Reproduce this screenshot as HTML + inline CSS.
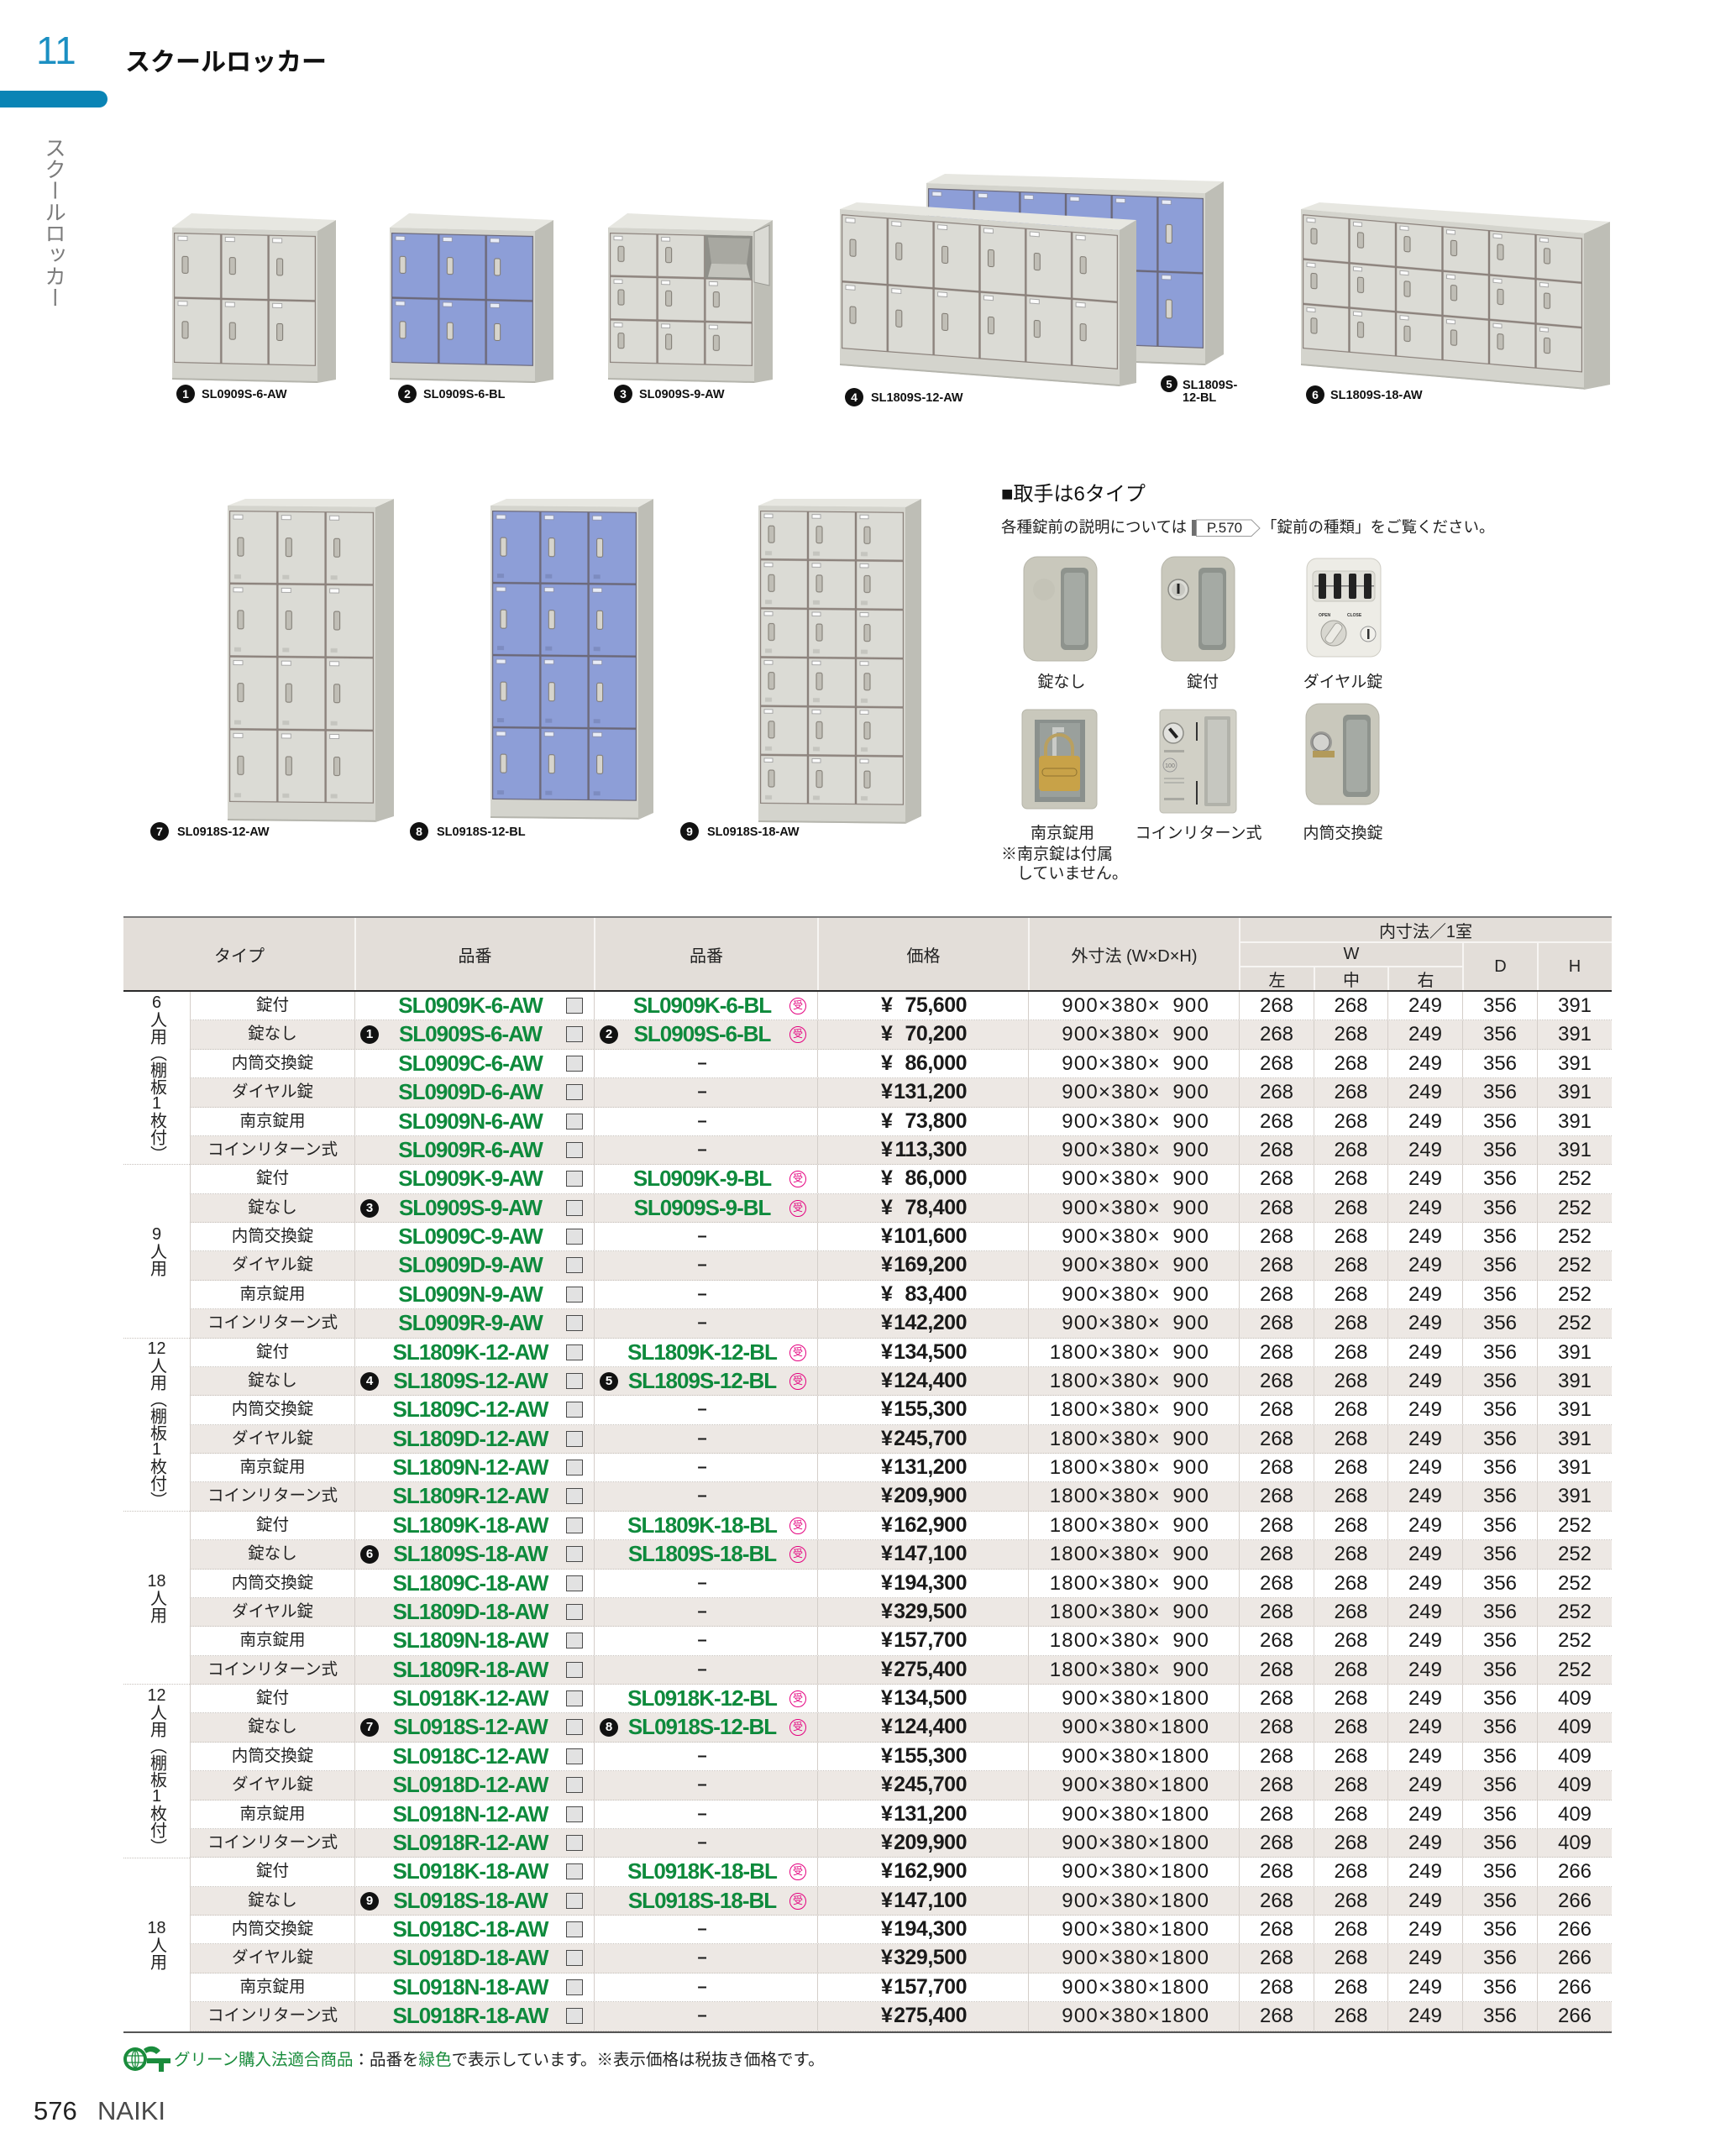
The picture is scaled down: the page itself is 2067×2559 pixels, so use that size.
<!DOCTYPE html>
<html lang="ja">
<head>
<meta charset="utf-8">
<style>
body{margin:0;background:#fff}
#pg{position:relative;width:2067px;height:2559px;overflow:hidden;background:#fff;font-family:"Liberation Sans","Noto Sans CJK JP",sans-serif;color:#1a1a1a}
.a{position:absolute;white-space:nowrap;line-height:1}
.hc{position:absolute;display:flex;align-items:center;justify-content:center;font-size:20px;color:#222;white-space:nowrap}
.ln{position:absolute}
#tb{position:absolute;left:226px;top:1181px;width:1693px}
.r{display:flex;height:34.39px;box-sizing:border-box;border-bottom:1px dotted #c6c0ba;background:#fff}
.r.z{background:#ede8e4}
.r>div{position:relative;box-sizing:border-box;border-right:1px solid #d4cec9;line-height:33px;text-align:center;font-size:24px;flex:none;white-space:nowrap}
.r>div:last-child{border-right:none}
.t{width:197px;font-size:19.5px!important;border-left:1px solid #d4cec9;color:#222}
.p1{width:285px}.p2{width:266px}.pr{width:251px}.sz{width:251px;text-align:right!important;padding-right:35px;letter-spacing:1.2px}
.c1{width:89px}.c2{width:88px}
.g{position:absolute;top:0;left:0;color:#0e8a3c;font-weight:bold;font-size:26px;letter-spacing:-1px;line-height:33px;text-align:center}
.p1 .g{width:274px}.p2 .g{width:256px}
.dh{position:absolute;top:0;left:0;width:256px;text-align:center;font-weight:bold;font-size:20px;line-height:33px}
.n{position:absolute;top:6px;left:6px;width:22px;height:22px;border-radius:50%;background:#111;color:#fff;font-size:15px;font-weight:bold;line-height:22px;text-align:center}
.cb{position:absolute;left:251px;top:7px;width:20px;height:19px;box-sizing:border-box;border:1.5px solid #4a4a4a;background:#e2e2e2}
.ju{position:absolute;left:232px;top:7px;width:20px;height:20px;box-sizing:border-box;border:1.5px solid #e4007f;border-radius:50%;color:#e4007f;font-size:12px;line-height:17px;text-align:center;letter-spacing:0}
.y{position:absolute;left:75px;top:0;font-weight:bold;font-size:25px;line-height:33px}
.v{position:absolute;right:73px;top:0;font-weight:bold;font-size:25px;letter-spacing:-0.5px;line-height:33px}
.w{display:inline-block;width:58px;text-align:right}
#gc{position:absolute;left:147px;top:1181px;width:79px}
.gp{height:206.34px;box-sizing:border-box;border-bottom:1px dotted #c6c0ba;display:flex;align-items:center;justify-content:center}
.gp:last-child{border-bottom:none}
.vt{writing-mode:vertical-rl;font-size:20px;line-height:1;color:#222;font-family:"Liberation Sans","Noto Sans CJK JP",sans-serif}
.tc{text-combine-upright:all}
.hl{position:absolute;width:200px;text-align:center;font-size:19px;line-height:1;white-space:nowrap;color:#222}
</style>
</head>
<body>
<div id="pg">

<!-- header -->
<div class="a" style="left:43px;top:37px;font-size:46px;color:#1b8fc2">11</div>
<div class="a" style="left:149px;top:60px;font-size:30px;font-weight:bold;color:#111">スクールロッカー</div>
<div class="ln" style="left:0;top:108px;width:128px;height:20px;background:#0a84b5;border-radius:0 10px 10px 0"></div>
<div class="a" style="left:50px;top:163px;writing-mode:vertical-rl;font-size:25.5px;color:#7b7b7b">スクールロッカー</div>

<!-- locker images -->
<svg class="a" style="left:0;top:0" width="2067" height="1060" viewBox="0 0 2067 1060">
<defs>
<pattern id="q1" patternUnits="userSpaceOnUse" x="2" y="6" width="56.33" height="77.5"><rect x=".6" y=".6" width="55.1" height="76.3" fill="#dbdbd5" stroke="#8a807a" stroke-width="1.2"/><rect x="10" y="28" width="7" height="20" rx="2" fill="#c0beb6" stroke="#7d7870"/><rect x="5" y="4" width="11" height="5" fill="#fbfbfb" stroke="#9a9a9a" stroke-width=".8"/></pattern>
<pattern id="q2" patternUnits="userSpaceOnUse" x="2" y="6" width="56.33" height="77.5"><rect x=".6" y=".6" width="55.1" height="76.3" fill="#8d9ed7" stroke="#6b6878" stroke-width="1.2"/><rect x="10" y="28" width="7" height="20" rx="2" fill="#d6d4cc" stroke="#7d7870"/><rect x="5" y="4" width="11" height="5" fill="#e8ecf6" stroke="#8a8fa8" stroke-width=".8"/></pattern>
<pattern id="q3" patternUnits="userSpaceOnUse" x="2" y="6" width="56.67" height="51.67"><rect x=".6" y=".6" width="55.4" height="50.4" fill="#dbdbd5" stroke="#8a807a" stroke-width="1.2"/><rect x="10" y="16" width="7" height="18" rx="2" fill="#c0beb6" stroke="#7d7870"/><rect x="5" y="4" width="10" height="4.5" fill="#fbfbfb" stroke="#9a9a9a" stroke-width=".8"/></pattern>
<pattern id="q4" patternUnits="userSpaceOnUse" x="2" y="6" width="54.83" height="80"><rect x=".6" y=".6" width="53.6" height="78.8" fill="#dbdbd5" stroke="#8a807a" stroke-width="1.2"/><rect x="10" y="29" width="7" height="20" rx="2" fill="#c0beb6" stroke="#7d7870"/><rect x="5" y="4" width="11" height="5" fill="#fbfbfb" stroke="#9a9a9a" stroke-width=".8"/></pattern>
<pattern id="q5" patternUnits="userSpaceOnUse" x="2" y="6" width="54.67" height="89.5"><rect x=".6" y=".6" width="53.5" height="88.3" fill="#8d9ed7" stroke="#6b6878" stroke-width="1.2"/><rect x="10" y="33" width="7" height="22" rx="2" fill="#d6d4cc" stroke="#7d7870"/><rect x="5" y="4" width="11" height="5" fill="#e8ecf6" stroke="#8a8fa8" stroke-width=".8"/></pattern>
<pattern id="q6" patternUnits="userSpaceOnUse" x="2" y="6" width="55.5" height="53.33"><rect x=".6" y=".6" width="54.3" height="52.1" fill="#dbdbd5" stroke="#8a807a" stroke-width="1.2"/><rect x="10" y="16" width="7" height="18" rx="2" fill="#c0beb6" stroke="#7d7870"/><rect x="5" y="4" width="10" height="4.5" fill="#fbfbfb" stroke="#9a9a9a" stroke-width=".8"/></pattern>
<pattern id="q7" patternUnits="userSpaceOnUse" x="2" y="6" width="57.33" height="86.75"><rect x=".6" y=".6" width="56.1" height="85.5" fill="#dbdbd5" stroke="#8a807a" stroke-width="1.2"/><rect x="10" y="32" width="7" height="22" rx="2" fill="#c0beb6" stroke="#7d7870"/><rect x="5" y="5" width="11" height="5" fill="#fbfbfb" stroke="#9a9a9a" stroke-width=".8"/><rect x="6" y="76" width="8" height="5" fill="#c5c5bf"/></pattern>
<pattern id="q8" patternUnits="userSpaceOnUse" x="2" y="6" width="57.33" height="86"><rect x=".6" y=".6" width="56.1" height="84.8" fill="#8d9ed7" stroke="#6b6878" stroke-width="1.2"/><rect x="10" y="32" width="7" height="22" rx="2" fill="#d6d4cc" stroke="#7d7870"/><rect x="5" y="5" width="11" height="5" fill="#e8ecf6" stroke="#8a8fa8" stroke-width=".8"/><rect x="6" y="75" width="8" height="5" fill="#7d8cc0"/></pattern>
<pattern id="q9" patternUnits="userSpaceOnUse" x="2" y="6" width="57" height="58.17"><rect x=".6" y=".6" width="55.8" height="56.9" fill="#dbdbd5" stroke="#8a807a" stroke-width="1.2"/><rect x="10" y="18" width="7" height="20" rx="2" fill="#c0beb6" stroke="#7d7870"/><rect x="5" y="4" width="10" height="4.5" fill="#fbfbfb" stroke="#9a9a9a" stroke-width=".8"/><rect x="6" y="48" width="8" height="5" fill="#c5c5bf"/></pattern>
</defs>

<!-- L1 -->
<polygon points="378,275 400,262 400,452 378,456" fill="#bebeb6"/>
<polygon points="205,271 378,275 400,262 228,254" fill="#e7e7e1"/>
<g transform="matrix(1,0.023,0,1,205,271)"><rect width="173" height="181" fill="#d4d4cd"/><rect x="2" y="6" width="169" height="155" fill="url(#q1)"/><rect y="179" width="173" height="2" fill="#b5b5ad"/></g>
<!-- L2 -->
<polygon points="637,275 659,262 659,452 637,456" fill="#bebeb6"/>
<polygon points="464,271 637,275 659,262 487,254" fill="#e7e7e1"/>
<g transform="matrix(1,0.023,0,1,464,271)"><rect width="173" height="181" fill="#d4d4cd"/><rect x="2" y="6" width="169" height="155" fill="url(#q2)"/><rect y="179" width="173" height="2" fill="#b5b5ad"/></g>
<!-- L3 -->
<polygon points="898,275 920,262 920,452 898,456" fill="#bebeb6"/>
<polygon points="724,271 898,275 920,262 747,254" fill="#e7e7e1"/>
<g transform="matrix(1,0.023,0,1,724,271)"><rect width="174" height="181" fill="#d4d4cd"/><rect x="2" y="6" width="170" height="155" fill="url(#q3)"/><rect x="115.3" y="6" width="56.7" height="51.7" fill="#8f8f89"/><polygon points="119,9 169,9 165,40 123,40" fill="#a8a8a1"/><polygon points="119,56 169,56 165,40 123,40" fill="#c3c3bc"/><rect y="179" width="174" height="2" fill="#b5b5ad"/></g>
<polygon points="898,276 916,268 916,340 898,336" fill="#dadad4" stroke="#9a9a94"/>
<!-- L5 back -->
<polygon points="1435,230 1457,216 1457,422 1435,435" fill="#bebeb6"/>
<polygon points="1103,218 1435,230 1457,216 1125,207" fill="#e7e7e1"/>
<g transform="matrix(1,0.036,0,1,1103,218)"><rect width="332" height="205" fill="#d4d4cd"/><rect x="2" y="6" width="328" height="179" fill="url(#q5)"/><rect y="203" width="332" height="2" fill="#b5b5ad"/></g>
<!-- L4 front -->
<polygon points="1333,274 1353,262 1353,456 1333,460" fill="#bebeb6"/>
<polygon points="1000,249 1333,274 1353,262 1020,241" fill="#e7e7e1"/>
<g transform="matrix(1,0.075,0,1,1000,249)"><rect width="333" height="186" fill="#d4d4cd"/><rect x="2" y="6" width="329" height="160" fill="url(#q4)"/><rect y="184" width="333" height="2" fill="#b5b5ad"/></g>
<!-- L6 -->
<polygon points="1886,278 1917,264 1917,458 1886,464" fill="#bebeb6"/>
<polygon points="1549,249 1886,278 1917,264 1571,241" fill="#e7e7e1"/>
<g transform="matrix(1,0.085,0,1,1549,249)"><rect width="337" height="186" fill="#d4d4cd"/><rect x="2" y="6" width="333" height="160" fill="url(#q6)"/><rect y="184" width="337" height="2" fill="#b5b5ad"/></g>
<!-- L7 -->
<polygon points="447,604 469,594 469,972 447,979" fill="#bebeb6"/>
<polygon points="271,602 447,604 469,594 292,594" fill="#e7e7e1"/>
<g transform="matrix(1,0.01,0,1,271,602)"><rect width="176" height="375" fill="#d4d4cd"/><rect x="2" y="6" width="172" height="347" fill="url(#q7)"/><rect y="373" width="176" height="2" fill="#b5b5ad"/></g>
<!-- L8 -->
<polygon points="760,604 778,594 778,968 760,976" fill="#bebeb6"/>
<polygon points="584,602 760,604 778,594 603,594" fill="#e7e7e1"/>
<g transform="matrix(1,0.01,0,1,584,602)"><rect width="176" height="372" fill="#d4d4cd"/><rect x="2" y="6" width="172" height="344" fill="url(#q8)"/><rect y="370" width="176" height="2" fill="#b5b5ad"/></g>
<!-- L9 -->
<polygon points="1078,604 1097,594 1097,972 1078,981" fill="#bebeb6"/>
<polygon points="903,602 1078,604 1097,594 922,594" fill="#e7e7e1"/>
<g transform="matrix(1,0.01,0,1,903,602)"><rect width="175" height="377" fill="#d4d4cd"/><rect x="2" y="6" width="171" height="349" fill="url(#q9)"/><rect y="375" width="175" height="2" fill="#b5b5ad"/></g>

<!-- labels -->
<g font-family="Liberation Sans, sans-serif" font-weight="bold" font-size="14.5" fill="#111">
<circle cx="221" cy="469" r="11" fill="#111"/><text x="221" y="474" fill="#fff" text-anchor="middle" font-size="14">1</text><text x="240" y="474">SL0909S-6-AW</text>
<circle cx="485" cy="469" r="11" fill="#111"/><text x="485" y="474" fill="#fff" text-anchor="middle" font-size="14">2</text><text x="504" y="474">SL0909S-6-BL</text>
<circle cx="742" cy="469" r="11" fill="#111"/><text x="742" y="474" fill="#fff" text-anchor="middle" font-size="14">3</text><text x="761" y="474">SL0909S-9-AW</text>
<circle cx="1017" cy="473" r="11" fill="#111"/><text x="1017" y="478" fill="#fff" text-anchor="middle" font-size="14">4</text><text x="1037" y="478">SL1809S-12-AW</text>
<circle cx="1392" cy="457" r="10" fill="#111"/><text x="1392" y="462" fill="#fff" text-anchor="middle" font-size="13">5</text><text x="1408" y="463">SL1809S-</text><text x="1408" y="478">12-BL</text>
<circle cx="1566" cy="470" r="11" fill="#111"/><text x="1566" y="475" fill="#fff" text-anchor="middle" font-size="14">6</text><text x="1584" y="475">SL1809S-18-AW</text>
<circle cx="190" cy="990" r="11" fill="#111"/><text x="190" y="995" fill="#fff" text-anchor="middle" font-size="14">7</text><text x="211" y="995">SL0918S-12-AW</text>
<circle cx="499" cy="990" r="11" fill="#111"/><text x="499" y="995" fill="#fff" text-anchor="middle" font-size="14">8</text><text x="520" y="995">SL0918S-12-BL</text>
<circle cx="821" cy="990" r="11" fill="#111"/><text x="821" y="995" fill="#fff" text-anchor="middle" font-size="14">9</text><text x="842" y="995">SL0918S-18-AW</text>
</g>

<!-- handles -->
<rect x="1219" y="663" width="87" height="124" rx="16" fill="#c9c8bc" stroke="#b6b5a9"/>
<circle cx="1243" cy="702" r="13" fill="#c4c3b7"/>
<rect x="1263" y="676" width="33" height="98" rx="6" fill="#8e938d"/>
<rect x="1267" y="682" width="25" height="86" rx="4" fill="#a5aaa4"/>

<rect x="1383" y="663" width="87" height="124" rx="16" fill="#c9c8bc" stroke="#b6b5a9"/>
<rect x="1427" y="676" width="33" height="98" rx="6" fill="#8e938d"/>
<rect x="1431" y="682" width="25" height="86" rx="4" fill="#a5aaa4"/>
<circle cx="1403" cy="702" r="12" fill="#dcdcd6" stroke="#8a8a84" stroke-width="1.5"/>
<circle cx="1403" cy="702" r="8" fill="#c8c8c2"/>
<rect x="1401.5" y="695" width="3" height="12" fill="#222"/>

<rect x="1556" y="665" width="88" height="117" rx="12" fill="#edece6" stroke="#cfcdc4"/>
<rect x="1563" y="680" width="74" height="36" rx="5" fill="#e0dfd8" stroke="#c5c4bc"/>
<rect x="1565" y="697" width="71" height="1.5" fill="#777"/>
<rect x="1570" y="683" width="9" height="30" rx="2" fill="#222"/>
<rect x="1588" y="683" width="9" height="30" rx="2" fill="#222"/>
<rect x="1606" y="683" width="9" height="30" rx="2" fill="#222"/>
<rect x="1624" y="683" width="9" height="30" rx="2" fill="#222"/>
<text x="1570" y="734" font-family="Liberation Sans, sans-serif" font-size="5" font-weight="bold" fill="#333">OPEN</text>
<text x="1604" y="734" font-family="Liberation Sans, sans-serif" font-size="5" font-weight="bold" fill="#333">CLOSE</text>
<circle cx="1588" cy="754" r="15" fill="#d8d7d0" stroke="#9c9b94"/>
<rect x="1583" y="741" width="10" height="26" rx="4" fill="#ecebe5" stroke="#a3a29b" transform="rotate(35 1588 754)"/>
<circle cx="1629" cy="755" r="9" fill="#f2f1ec" stroke="#999"/>
<rect x="1628" y="749" width="2.5" height="12" fill="#333"/>

<rect x="1217" y="845" width="89" height="118" rx="6" fill="#c9c8bc" stroke="#b6b5a9"/>
<rect x="1232" y="857" width="60" height="98" fill="#8a908d"/>
<rect x="1238" y="861" width="48" height="88" fill="#9aa09c"/>
<path d="M1253 866 h14 v6 h-9 v28 h-5 z" fill="#c9cbc8"/>
<path d="M1245 903 v-12 a16 16 0 0 1 32 0 v12" fill="none" stroke="#b9a060" stroke-width="4"/>
<rect x="1237" y="900" width="49" height="42" rx="4" fill="#c8a248"/>
<rect x="1241" y="915" width="41" height="9" rx="4" fill="none" stroke="#8f7330"/>

<rect x="1381" y="845" width="91" height="123" rx="4" fill="#d1d0c6" stroke="#bcbbb1"/>
<rect x="1434" y="853" width="31" height="107" rx="2" fill="#b1b2aa"/>
<rect x="1438" y="857" width="23" height="99" fill="#c6c7c0"/>
<circle cx="1397" cy="873" r="12" fill="#e2e2de" stroke="#8c8c86" stroke-width="1.5"/>
<rect x="1395" y="866" width="4" height="14" fill="#222" transform="rotate(-40 1397 873)"/>
<rect x="1424" y="860" width="2" height="22" fill="#333"/>
<rect x="1424" y="930" width="2" height="28" fill="#333"/>
<rect x="1386" y="893" width="24" height="3" fill="#a9a9a2"/>
<circle cx="1393" cy="911" r="8" fill="none" stroke="#999"/>
<text x="1393" y="914" font-family="Liberation Sans, sans-serif" font-size="7" text-anchor="middle" fill="#777">100</text>
<rect x="1386" y="926" width="24" height="2" fill="#b5b5ae"/>
<rect x="1386" y="931" width="24" height="2" fill="#b5b5ae"/>
<rect x="1386" y="950" width="24" height="3" fill="#a9a9a2"/>

<rect x="1555" y="838" width="87" height="120" rx="16" fill="#c9c8bc" stroke="#b6b5a9"/>
<rect x="1599" y="851" width="33" height="98" rx="6" fill="#8e938d"/>
<rect x="1603" y="857" width="25" height="86" rx="4" fill="#a5aaa4"/>
<circle cx="1573" cy="884" r="13" fill="#9a9a96"/>
<circle cx="1573" cy="884" r="10" fill="#d3d3cf" stroke="#777"/>
<rect x="1563" y="894" width="26" height="8" fill="#b29a5a"/>
</svg>

<!-- handle section texts -->
<div class="a" style="left:1192px;top:577px;font-size:24px;color:#111">■取手は6タイプ</div>
<div class="a" style="left:1192px;top:619px;font-size:18.5px;color:#222">各種錠前の説明については</div>
<div class="ln" style="left:1419px;top:619px;width:6px;height:19px;background:#6f6f6f"></div>
<svg class="a" style="left:1424px;top:618px" width="80" height="22" viewBox="0 0 80 22"><polygon points="0.5,1 66,1 76,11 66,20.5 0.5,20.5" fill="#fff" stroke="#999" stroke-width="1"/></svg>
<div class="a" style="left:1428px;top:620px;width:60px;text-align:center;font-size:17px;color:#222">P.570</div>
<div class="a" style="left:1502px;top:619px;font-size:18.5px;color:#222">「錠前の種類」をご覧ください。</div>

<div class="hl" style="left:1164px;top:803px">錠なし</div>
<div class="hl" style="left:1332px;top:803px">錠付</div>
<div class="hl" style="left:1499px;top:803px">ダイヤル錠</div>
<div class="hl" style="left:1165px;top:983px">南京錠用</div>
<div class="hl" style="left:1327px;top:983px">コインリターン式</div>
<div class="hl" style="left:1499px;top:983px">内筒交換錠</div>
<div class="a" style="left:1192px;top:1008px;font-size:19px;color:#222">※南京錠は付属</div>
<div class="a" style="left:1211px;top:1031px;font-size:19px;color:#222">していません。</div>

<!-- table header -->
<div class="ln" style="left:147px;top:1093px;width:1772px;height:86px;background:#e3ded9"></div>
<div class="ln" style="left:147px;top:1091px;width:1772px;height:2px;background:#7a7a7a"></div>
<div class="ln" style="left:422px;top:1093px;width:2px;height:86px;background:#f7f5f3"></div>
<div class="ln" style="left:707px;top:1093px;width:2px;height:86px;background:#f7f5f3"></div>
<div class="ln" style="left:973px;top:1093px;width:2px;height:86px;background:#f7f5f3"></div>
<div class="ln" style="left:1224px;top:1093px;width:2px;height:86px;background:#f7f5f3"></div>
<div class="ln" style="left:1475px;top:1093px;width:2px;height:86px;background:#f7f5f3"></div>
<div class="ln" style="left:1476px;top:1121px;width:443px;height:2px;background:#f7f5f3"></div>
<div class="ln" style="left:1476px;top:1150px;width:266px;height:2px;background:#f7f5f3"></div>
<div class="ln" style="left:1564px;top:1151px;width:2px;height:28px;background:#f7f5f3"></div>
<div class="ln" style="left:1652px;top:1151px;width:2px;height:28px;background:#f7f5f3"></div>
<div class="ln" style="left:1741px;top:1122px;width:2px;height:57px;background:#f7f5f3"></div>
<div class="ln" style="left:1830px;top:1122px;width:2px;height:57px;background:#f7f5f3"></div>
<div class="ln" style="left:147px;top:1179px;width:1772px;height:2px;background:#2a2a2a"></div>

<div class="hc" style="left:147px;top:1093px;width:276px;height:86px">タイプ</div>
<div class="hc" style="left:423px;top:1093px;width:285px;height:86px">品番</div>
<div class="hc" style="left:708px;top:1093px;width:266px;height:86px">品番</div>
<div class="hc" style="left:974px;top:1093px;width:251px;height:86px">価格</div>
<div class="hc" style="left:1225px;top:1093px;width:251px;height:86px">外寸法 (W×D×H)</div>
<div class="hc" style="left:1476px;top:1093px;width:443px;height:29px">内寸法／1室</div>
<div class="hc" style="left:1476px;top:1122px;width:266px;height:29px">W</div>
<div class="hc" style="left:1476px;top:1151px;width:89px;height:29px">左</div>
<div class="hc" style="left:1565px;top:1151px;width:88px;height:29px">中</div>
<div class="hc" style="left:1653px;top:1151px;width:89px;height:29px">右</div>
<div class="hc" style="left:1742px;top:1122px;width:89px;height:58px">D</div>
<div class="hc" style="left:1831px;top:1122px;width:88px;height:58px">H</div>

<!-- group column -->
<div id="gc">
<div class="gp"><div class="vt"><span class="tc">6</span>人用（棚板<span class="tc">1</span>枚付）</div></div>
<div class="gp"><div class="vt"><span class="tc">9</span>人用</div></div>
<div class="gp"><div class="vt"><span class="tc">12</span>人用（棚板<span class="tc">1</span>枚付）</div></div>
<div class="gp"><div class="vt"><span class="tc">18</span>人用</div></div>
<div class="gp"><div class="vt"><span class="tc">12</span>人用（棚板<span class="tc">1</span>枚付）</div></div>
<div class="gp"><div class="vt"><span class="tc">18</span>人用</div></div>
</div>

<!-- table body -->
<div id="tb">
<!-- G1 -->
<div class="r"><div class="t">錠付</div><div class="p1"><span class="g">SL0909K-6-AW</span><span class="cb"></span></div><div class="p2"><span class="g">SL0909K-6-BL</span><span class="ju">受</span></div><div class="pr"><span class="y">¥</span><span class="v">75,600</span></div><div class="sz">900×380×<span class="w">900</span></div><div class="c1">268</div><div class="c2">268</div><div class="c1">249</div><div class="c1">356</div><div class="c2">391</div></div>
<div class="r z"><div class="t">錠なし</div><div class="p1"><span class="n">1</span><span class="g">SL0909S-6-AW</span><span class="cb"></span></div><div class="p2"><span class="n">2</span><span class="g">SL0909S-6-BL</span><span class="ju">受</span></div><div class="pr"><span class="y">¥</span><span class="v">70,200</span></div><div class="sz">900×380×<span class="w">900</span></div><div class="c1">268</div><div class="c2">268</div><div class="c1">249</div><div class="c1">356</div><div class="c2">391</div></div>
<div class="r"><div class="t">内筒交換錠</div><div class="p1"><span class="g">SL0909C-6-AW</span><span class="cb"></span></div><div class="p2"><span class="dh">–</span></div><div class="pr"><span class="y">¥</span><span class="v">86,000</span></div><div class="sz">900×380×<span class="w">900</span></div><div class="c1">268</div><div class="c2">268</div><div class="c1">249</div><div class="c1">356</div><div class="c2">391</div></div>
<div class="r z"><div class="t">ダイヤル錠</div><div class="p1"><span class="g">SL0909D-6-AW</span><span class="cb"></span></div><div class="p2"><span class="dh">–</span></div><div class="pr"><span class="y">¥</span><span class="v">131,200</span></div><div class="sz">900×380×<span class="w">900</span></div><div class="c1">268</div><div class="c2">268</div><div class="c1">249</div><div class="c1">356</div><div class="c2">391</div></div>
<div class="r"><div class="t">南京錠用</div><div class="p1"><span class="g">SL0909N-6-AW</span><span class="cb"></span></div><div class="p2"><span class="dh">–</span></div><div class="pr"><span class="y">¥</span><span class="v">73,800</span></div><div class="sz">900×380×<span class="w">900</span></div><div class="c1">268</div><div class="c2">268</div><div class="c1">249</div><div class="c1">356</div><div class="c2">391</div></div>
<div class="r z"><div class="t">コインリターン式</div><div class="p1"><span class="g">SL0909R-6-AW</span><span class="cb"></span></div><div class="p2"><span class="dh">–</span></div><div class="pr"><span class="y">¥</span><span class="v">113,300</span></div><div class="sz">900×380×<span class="w">900</span></div><div class="c1">268</div><div class="c2">268</div><div class="c1">249</div><div class="c1">356</div><div class="c2">391</div></div>
<!-- G2 -->
<div class="r"><div class="t">錠付</div><div class="p1"><span class="g">SL0909K-9-AW</span><span class="cb"></span></div><div class="p2"><span class="g">SL0909K-9-BL</span><span class="ju">受</span></div><div class="pr"><span class="y">¥</span><span class="v">86,000</span></div><div class="sz">900×380×<span class="w">900</span></div><div class="c1">268</div><div class="c2">268</div><div class="c1">249</div><div class="c1">356</div><div class="c2">252</div></div>
<div class="r z"><div class="t">錠なし</div><div class="p1"><span class="n">3</span><span class="g">SL0909S-9-AW</span><span class="cb"></span></div><div class="p2"><span class="g">SL0909S-9-BL</span><span class="ju">受</span></div><div class="pr"><span class="y">¥</span><span class="v">78,400</span></div><div class="sz">900×380×<span class="w">900</span></div><div class="c1">268</div><div class="c2">268</div><div class="c1">249</div><div class="c1">356</div><div class="c2">252</div></div>
<div class="r"><div class="t">内筒交換錠</div><div class="p1"><span class="g">SL0909C-9-AW</span><span class="cb"></span></div><div class="p2"><span class="dh">–</span></div><div class="pr"><span class="y">¥</span><span class="v">101,600</span></div><div class="sz">900×380×<span class="w">900</span></div><div class="c1">268</div><div class="c2">268</div><div class="c1">249</div><div class="c1">356</div><div class="c2">252</div></div>
<div class="r z"><div class="t">ダイヤル錠</div><div class="p1"><span class="g">SL0909D-9-AW</span><span class="cb"></span></div><div class="p2"><span class="dh">–</span></div><div class="pr"><span class="y">¥</span><span class="v">169,200</span></div><div class="sz">900×380×<span class="w">900</span></div><div class="c1">268</div><div class="c2">268</div><div class="c1">249</div><div class="c1">356</div><div class="c2">252</div></div>
<div class="r"><div class="t">南京錠用</div><div class="p1"><span class="g">SL0909N-9-AW</span><span class="cb"></span></div><div class="p2"><span class="dh">–</span></div><div class="pr"><span class="y">¥</span><span class="v">83,400</span></div><div class="sz">900×380×<span class="w">900</span></div><div class="c1">268</div><div class="c2">268</div><div class="c1">249</div><div class="c1">356</div><div class="c2">252</div></div>
<div class="r z"><div class="t">コインリターン式</div><div class="p1"><span class="g">SL0909R-9-AW</span><span class="cb"></span></div><div class="p2"><span class="dh">–</span></div><div class="pr"><span class="y">¥</span><span class="v">142,200</span></div><div class="sz">900×380×<span class="w">900</span></div><div class="c1">268</div><div class="c2">268</div><div class="c1">249</div><div class="c1">356</div><div class="c2">252</div></div>
<!-- G3 -->
<div class="r"><div class="t">錠付</div><div class="p1"><span class="g">SL1809K-12-AW</span><span class="cb"></span></div><div class="p2"><span class="g">SL1809K-12-BL</span><span class="ju">受</span></div><div class="pr"><span class="y">¥</span><span class="v">134,500</span></div><div class="sz">1800×380×<span class="w">900</span></div><div class="c1">268</div><div class="c2">268</div><div class="c1">249</div><div class="c1">356</div><div class="c2">391</div></div>
<div class="r z"><div class="t">錠なし</div><div class="p1"><span class="n">4</span><span class="g">SL1809S-12-AW</span><span class="cb"></span></div><div class="p2"><span class="n">5</span><span class="g">SL1809S-12-BL</span><span class="ju">受</span></div><div class="pr"><span class="y">¥</span><span class="v">124,400</span></div><div class="sz">1800×380×<span class="w">900</span></div><div class="c1">268</div><div class="c2">268</div><div class="c1">249</div><div class="c1">356</div><div class="c2">391</div></div>
<div class="r"><div class="t">内筒交換錠</div><div class="p1"><span class="g">SL1809C-12-AW</span><span class="cb"></span></div><div class="p2"><span class="dh">–</span></div><div class="pr"><span class="y">¥</span><span class="v">155,300</span></div><div class="sz">1800×380×<span class="w">900</span></div><div class="c1">268</div><div class="c2">268</div><div class="c1">249</div><div class="c1">356</div><div class="c2">391</div></div>
<div class="r z"><div class="t">ダイヤル錠</div><div class="p1"><span class="g">SL1809D-12-AW</span><span class="cb"></span></div><div class="p2"><span class="dh">–</span></div><div class="pr"><span class="y">¥</span><span class="v">245,700</span></div><div class="sz">1800×380×<span class="w">900</span></div><div class="c1">268</div><div class="c2">268</div><div class="c1">249</div><div class="c1">356</div><div class="c2">391</div></div>
<div class="r"><div class="t">南京錠用</div><div class="p1"><span class="g">SL1809N-12-AW</span><span class="cb"></span></div><div class="p2"><span class="dh">–</span></div><div class="pr"><span class="y">¥</span><span class="v">131,200</span></div><div class="sz">1800×380×<span class="w">900</span></div><div class="c1">268</div><div class="c2">268</div><div class="c1">249</div><div class="c1">356</div><div class="c2">391</div></div>
<div class="r z"><div class="t">コインリターン式</div><div class="p1"><span class="g">SL1809R-12-AW</span><span class="cb"></span></div><div class="p2"><span class="dh">–</span></div><div class="pr"><span class="y">¥</span><span class="v">209,900</span></div><div class="sz">1800×380×<span class="w">900</span></div><div class="c1">268</div><div class="c2">268</div><div class="c1">249</div><div class="c1">356</div><div class="c2">391</div></div>
<!-- G4 -->
<div class="r"><div class="t">錠付</div><div class="p1"><span class="g">SL1809K-18-AW</span><span class="cb"></span></div><div class="p2"><span class="g">SL1809K-18-BL</span><span class="ju">受</span></div><div class="pr"><span class="y">¥</span><span class="v">162,900</span></div><div class="sz">1800×380×<span class="w">900</span></div><div class="c1">268</div><div class="c2">268</div><div class="c1">249</div><div class="c1">356</div><div class="c2">252</div></div>
<div class="r z"><div class="t">錠なし</div><div class="p1"><span class="n">6</span><span class="g">SL1809S-18-AW</span><span class="cb"></span></div><div class="p2"><span class="g">SL1809S-18-BL</span><span class="ju">受</span></div><div class="pr"><span class="y">¥</span><span class="v">147,100</span></div><div class="sz">1800×380×<span class="w">900</span></div><div class="c1">268</div><div class="c2">268</div><div class="c1">249</div><div class="c1">356</div><div class="c2">252</div></div>
<div class="r"><div class="t">内筒交換錠</div><div class="p1"><span class="g">SL1809C-18-AW</span><span class="cb"></span></div><div class="p2"><span class="dh">–</span></div><div class="pr"><span class="y">¥</span><span class="v">194,300</span></div><div class="sz">1800×380×<span class="w">900</span></div><div class="c1">268</div><div class="c2">268</div><div class="c1">249</div><div class="c1">356</div><div class="c2">252</div></div>
<div class="r z"><div class="t">ダイヤル錠</div><div class="p1"><span class="g">SL1809D-18-AW</span><span class="cb"></span></div><div class="p2"><span class="dh">–</span></div><div class="pr"><span class="y">¥</span><span class="v">329,500</span></div><div class="sz">1800×380×<span class="w">900</span></div><div class="c1">268</div><div class="c2">268</div><div class="c1">249</div><div class="c1">356</div><div class="c2">252</div></div>
<div class="r"><div class="t">南京錠用</div><div class="p1"><span class="g">SL1809N-18-AW</span><span class="cb"></span></div><div class="p2"><span class="dh">–</span></div><div class="pr"><span class="y">¥</span><span class="v">157,700</span></div><div class="sz">1800×380×<span class="w">900</span></div><div class="c1">268</div><div class="c2">268</div><div class="c1">249</div><div class="c1">356</div><div class="c2">252</div></div>
<div class="r z"><div class="t">コインリターン式</div><div class="p1"><span class="g">SL1809R-18-AW</span><span class="cb"></span></div><div class="p2"><span class="dh">–</span></div><div class="pr"><span class="y">¥</span><span class="v">275,400</span></div><div class="sz">1800×380×<span class="w">900</span></div><div class="c1">268</div><div class="c2">268</div><div class="c1">249</div><div class="c1">356</div><div class="c2">252</div></div>
<!-- G5 -->
<div class="r"><div class="t">錠付</div><div class="p1"><span class="g">SL0918K-12-AW</span><span class="cb"></span></div><div class="p2"><span class="g">SL0918K-12-BL</span><span class="ju">受</span></div><div class="pr"><span class="y">¥</span><span class="v">134,500</span></div><div class="sz">900×380×<span class="w">1800</span></div><div class="c1">268</div><div class="c2">268</div><div class="c1">249</div><div class="c1">356</div><div class="c2">409</div></div>
<div class="r z"><div class="t">錠なし</div><div class="p1"><span class="n">7</span><span class="g">SL0918S-12-AW</span><span class="cb"></span></div><div class="p2"><span class="n">8</span><span class="g">SL0918S-12-BL</span><span class="ju">受</span></div><div class="pr"><span class="y">¥</span><span class="v">124,400</span></div><div class="sz">900×380×<span class="w">1800</span></div><div class="c1">268</div><div class="c2">268</div><div class="c1">249</div><div class="c1">356</div><div class="c2">409</div></div>
<div class="r"><div class="t">内筒交換錠</div><div class="p1"><span class="g">SL0918C-12-AW</span><span class="cb"></span></div><div class="p2"><span class="dh">–</span></div><div class="pr"><span class="y">¥</span><span class="v">155,300</span></div><div class="sz">900×380×<span class="w">1800</span></div><div class="c1">268</div><div class="c2">268</div><div class="c1">249</div><div class="c1">356</div><div class="c2">409</div></div>
<div class="r z"><div class="t">ダイヤル錠</div><div class="p1"><span class="g">SL0918D-12-AW</span><span class="cb"></span></div><div class="p2"><span class="dh">–</span></div><div class="pr"><span class="y">¥</span><span class="v">245,700</span></div><div class="sz">900×380×<span class="w">1800</span></div><div class="c1">268</div><div class="c2">268</div><div class="c1">249</div><div class="c1">356</div><div class="c2">409</div></div>
<div class="r"><div class="t">南京錠用</div><div class="p1"><span class="g">SL0918N-12-AW</span><span class="cb"></span></div><div class="p2"><span class="dh">–</span></div><div class="pr"><span class="y">¥</span><span class="v">131,200</span></div><div class="sz">900×380×<span class="w">1800</span></div><div class="c1">268</div><div class="c2">268</div><div class="c1">249</div><div class="c1">356</div><div class="c2">409</div></div>
<div class="r z"><div class="t">コインリターン式</div><div class="p1"><span class="g">SL0918R-12-AW</span><span class="cb"></span></div><div class="p2"><span class="dh">–</span></div><div class="pr"><span class="y">¥</span><span class="v">209,900</span></div><div class="sz">900×380×<span class="w">1800</span></div><div class="c1">268</div><div class="c2">268</div><div class="c1">249</div><div class="c1">356</div><div class="c2">409</div></div>
<!-- G6 -->
<div class="r"><div class="t">錠付</div><div class="p1"><span class="g">SL0918K-18-AW</span><span class="cb"></span></div><div class="p2"><span class="g">SL0918K-18-BL</span><span class="ju">受</span></div><div class="pr"><span class="y">¥</span><span class="v">162,900</span></div><div class="sz">900×380×<span class="w">1800</span></div><div class="c1">268</div><div class="c2">268</div><div class="c1">249</div><div class="c1">356</div><div class="c2">266</div></div>
<div class="r z"><div class="t">錠なし</div><div class="p1"><span class="n">9</span><span class="g">SL0918S-18-AW</span><span class="cb"></span></div><div class="p2"><span class="g">SL0918S-18-BL</span><span class="ju">受</span></div><div class="pr"><span class="y">¥</span><span class="v">147,100</span></div><div class="sz">900×380×<span class="w">1800</span></div><div class="c1">268</div><div class="c2">268</div><div class="c1">249</div><div class="c1">356</div><div class="c2">266</div></div>
<div class="r"><div class="t">内筒交換錠</div><div class="p1"><span class="g">SL0918C-18-AW</span><span class="cb"></span></div><div class="p2"><span class="dh">–</span></div><div class="pr"><span class="y">¥</span><span class="v">194,300</span></div><div class="sz">900×380×<span class="w">1800</span></div><div class="c1">268</div><div class="c2">268</div><div class="c1">249</div><div class="c1">356</div><div class="c2">266</div></div>
<div class="r z"><div class="t">ダイヤル錠</div><div class="p1"><span class="g">SL0918D-18-AW</span><span class="cb"></span></div><div class="p2"><span class="dh">–</span></div><div class="pr"><span class="y">¥</span><span class="v">329,500</span></div><div class="sz">900×380×<span class="w">1800</span></div><div class="c1">268</div><div class="c2">268</div><div class="c1">249</div><div class="c1">356</div><div class="c2">266</div></div>
<div class="r"><div class="t">南京錠用</div><div class="p1"><span class="g">SL0918N-18-AW</span><span class="cb"></span></div><div class="p2"><span class="dh">–</span></div><div class="pr"><span class="y">¥</span><span class="v">157,700</span></div><div class="sz">900×380×<span class="w">1800</span></div><div class="c1">268</div><div class="c2">268</div><div class="c1">249</div><div class="c1">356</div><div class="c2">266</div></div>
<div class="r z"><div class="t">コインリターン式</div><div class="p1"><span class="g">SL0918R-18-AW</span><span class="cb"></span></div><div class="p2"><span class="dh">–</span></div><div class="pr"><span class="y">¥</span><span class="v">275,400</span></div><div class="sz">900×380×<span class="w">1800</span></div><div class="c1">268</div><div class="c2">268</div><div class="c1">249</div><div class="c1">356</div><div class="c2">266</div></div>
</div>
<div class="ln" style="left:147px;top:2419px;width:1772px;height:2px;background:#555"></div>

<!-- footer -->
<svg class="a" style="left:145px;top:2436px" width="62" height="32" viewBox="0 0 62 32">
<circle cx="16" cy="16" r="14" fill="#1a8c3c"/>
<circle cx="16" cy="16" r="10" fill="#fff"/>
<ellipse cx="16" cy="16" rx="4" ry="10" fill="none" stroke="#1a8c3c" stroke-width="1.3"/>
<line x1="6" y1="12" x2="26" y2="12" stroke="#1a8c3c" stroke-width="1.3"/>
<line x1="6" y1="20" x2="26" y2="20" stroke="#1a8c3c" stroke-width="1.3"/>
<line x1="16" y1="6" x2="16" y2="26" stroke="#1a8c3c" stroke-width="1.3"/>
<path d="M26 4 a14 14 0 0 1 20 2 l-5 4 a9 9 0 0 0 -12 -1 z" fill="#1a8c3c"/>
<path d="M30 15 h28 v6 h-8 v10 h-6 v-10 h-14 z" fill="#1a8c3c"/>
</svg>
<div class="a" style="left:207px;top:2444px;font-size:19.5px;color:#222"><span style="color:#1a8c3c">グリーン購入法適合商品</span>：品番を<span style="color:#1a8c3c">緑色</span>で表示しています。※表示価格は税抜き価格です。</div>
<div class="a" style="left:40px;top:2498px;font-size:31px;color:#222">576</div>
<div class="a" style="left:116px;top:2498px;font-size:31px;color:#4a4a4a">NAIKI</div>

</div>
</body>
</html>
